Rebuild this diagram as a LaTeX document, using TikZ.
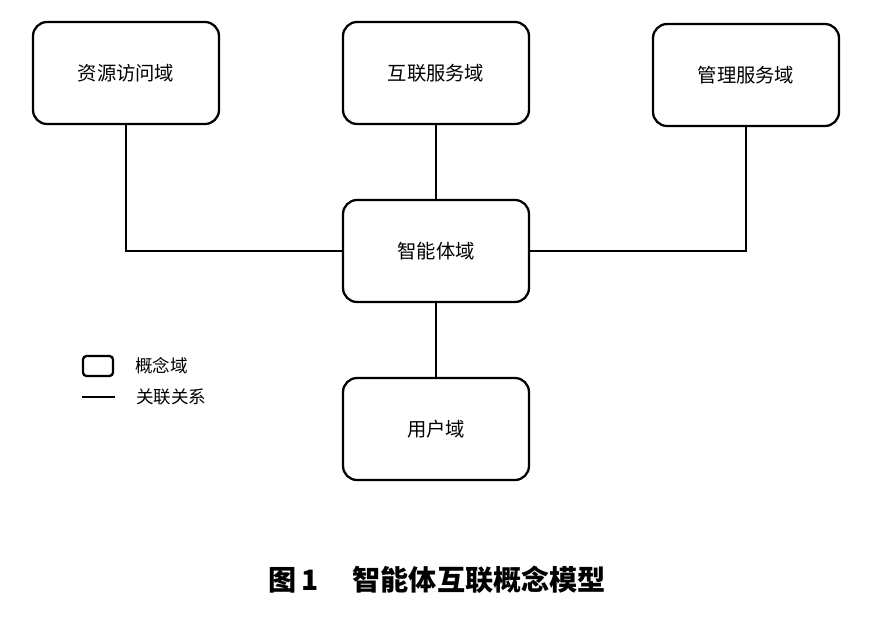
\documentclass[tikz,border=0pt]{standalone}
\usepackage{fontspec}
\setmainfont{Noto Sans CJK SC}
\usetikzlibrary{positioning}
\tikzset{
  concept/.style={draw, line width=1.3pt, rounded corners=8pt, minimum width=3.72cm, minimum height=2.04cm, font=\fontsize{11}{13}\selectfont},
  link/.style={line width=0.6pt}
}
\begin{document}
\begin{tikzpicture}[x=0.02cm, y=-0.02cm]
\useasboundingbox (0,0) rectangle (872,619);
% concepts
\node[concept] (res) at (126,73) {资源访问域};
\node[concept] (net) at (436,73) {互联服务域};
\node[concept] (mgr) at (746,75) {管理服务域};
\node[concept] (agent) at (436,251) {智能体域};
\node[concept] (user) at (436,429) {用户域};
% links
\draw[link] (res) |- (agent);
\draw[link] (mgr) |- (agent);
\draw[link] (net) -- (agent);
\draw[link] (agent) -- (user);
% legend
\node[draw, line width=1.3pt, rounded corners=2pt, minimum width=0.6cm, minimum height=0.4cm] (lgbox) at (98,366) {};
\node[right=0.3cm of lgbox, font=\fontsize{10}{12}\selectfont] (lgtxt) {概念域};
\coordinate (la) at (82,397);
\coordinate (lb) at (115,397);
\draw[link] (la) -- (lb);
\node[right=0.3cm of lb, font=\fontsize{10}{12}\selectfont] (lgrel) {关联关系};
% caption
\node[font=\fontsize{16}{18}\selectfont\bfseries] (cap) at (437,580) {图\,1\quad\ 智能体互联概念模型};
\end{tikzpicture}
\end{document}
